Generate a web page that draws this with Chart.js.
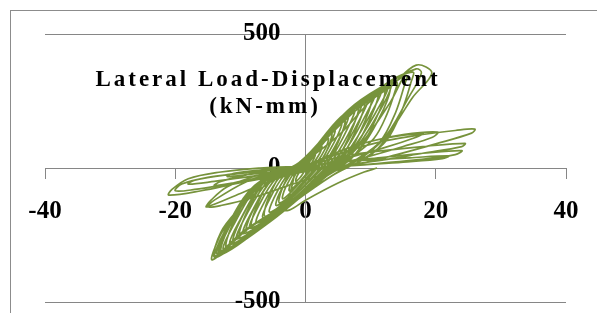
<!DOCTYPE html>
<html>
<head>
<meta charset="utf-8">
<script src="https://cdn.jsdelivr.net/npm/chart.js"></script>
<style>
html, body { margin: 0; padding: 0; background: #fff; }
#wrap { width: 597px; height: 313px; }
</style>
</head>
<body>
<div id="wrap"><canvas id="hyst" width="597" height="313"></canvas></div>
<script>
const chartTitle = ['Lateral Load-Displacement', '(kN-mm)'];
const xTicks = [-40, -20, 0, 20, 40];
const yTicks = [-500, 0, 500];

// displacement (mm), one line per load cycle
const dispX = [
  0, 0.8, 1.5, 1.3, 0.6, -0.2, -0.8, -1.5, -1.3, -0.6,
  0, 1.3, 2.5, 2.2, 1, 0, -1.3, -2.5, -2.2, -1,
  0, 1.8, 3.5, 3.1, 1.6, 0, -1.8, -3.5, -3.1, -1.5,
  0, 2, 4, 3.6, 2.3, 0.5, -2, -4, -3.7, -2.2,
  -0.2, 2.3, 4.5, 4, 2.2, 0.2, -2.2, -4.5, -4, -2,
  -0.3, 2.8, 5.5, 4.9, 2.8, 0.4, -2.6, -5.5, -4.9, -2.6,
  -0.3, 3, 6, 5.5, 3.6, 1, -3.2, -6.2, -5.8, -3.6,
  -0.4, 3.2, 6.5, 5.8, 3.4, 0.6, -3, -6.5, -5.8, -3.2,
  -0.5, 3.7, 7.5, 6.7, 4, 0.8, -3.4, -7.5, -6.7, -3.8,
  -0.5, 4, 8, 7.4, 5, 1.4, -4, -8.2, -7.6, -4.8,
  -0.6, 4.2, 8.5, 7.6, 4.6, 1, -3.8, -8.5, -7.6, -4.4,
  -0.7, 4.7, 9.5, 8.5, 5.2, 1.2, -4.2, -9.5, -8.5, -5,
  -0.5, 4.5, 9, 8.3, 5.5, 1.5, -4, -9, -8.2, -4.8,
  -0.6, 5, 10, 9.3, 6.3, 2, -4.6, -10, -9.3, -5.8,
  -0.8, 5.2, 10.5, 9.4, 5.8, 1.4, -4.6, -10.5, -9.4, -5.6,
  -0.9, 5.7, 11.5, 10.3, 6.4, 1.6, -5, -11.5, -10.3, -6.2,
  -0.7, 5.4, 11, 10.2, 6.8, 2, -4.8, -11, -10, -6,
  -0.8, 6, 12, 11.3, 7.6, 2.4, -5.4, -12, -11.2, -7,
  -1, 6.2, 12.5, 11.2, 7, 1.8, -5.4, -12.5, -11.2, -6.8,
  -1, 6.7, 13, 11.9, 7.6, 2, -5.8, -13.5, -12.2, -7.4,
  -0.8, 6.4, 12.8, 12, 8, 2.4, -5.6, -13, -12, -7.2,
  -1, 6.5, 11.5, 14, 13.8, 12.5, 10.5, 7, 2, -5.5, -12.8, -11.8, -7,
  -1, 7, 12.5, 15.5, 15.2, 13.8, 11.5, 8, 3, -5, -13.2, -12, -7.5,
  -1, 7.2, 13, 16.5, 16.2, 14.8, 12.5, 9, 4, -4.5, -13.8, -12.5, -7.8,
  -1, 7, 12.5, 15, 14.6, 13, 8.5, 2.5, -4.5, -9, -14.3, -13.2, -11.2, -8.6, -6, -3,
  -1, 7.5, 13, 17, 17.8, 16, 11.5, 4, -4, -9.5, -14, -13, -10.5, -7, -3,
  -1, 5, 10, 13, 17, 19.4, 16.5, 14.5, 12.9, 10.9, 8, 4, -2, -8, -13, -15, -14, -9, -4,
  0, 6, 12, 18, 17, 12, 6, 0, -6, -11, -14, -13, -8, -3,
  0, 5, 10, 15, 20.3, 19.5, 15, 10, 5, 0, -5, -10, -15.2, -14.5, -12, -7, -2,
  0, 6, 12, 18, 23, 26, 25.5, 20, 14, 8, 2, -4, -10, -16, -21, -20.5, -18, -13, -7,
  0, 6, 12, 18, 24.5, 24, 18, 12, 6, 0, -6, -12, -17, -20, -19, -15, -10, -4,
  0, 6, 12, 18, 24, 23, 17, 10, 4, -2, -8, -14, -18, -17, -12, -6, 0,
  4, 10, 16, 22, 21, 15, 9, 3, -3, -8, -12, -11, -7, -2,
  -2, -3, -4, -2.5, 0, 5, 9, 11
];

// lateral load (kN), same cycles
const loadY = [
  0, 30, 50, 35, 5, -15, -35, -50, -30, -5,
  5, 45, 80, 55, 10, -25, -60, -85, -55, -5,
  10, 65, 110, 75, 15, -30, -80, -115, -75, -10,
  15, 85, 130, 85, 20, -30, -95, -130, -85, -15,
  10, 85, 140, 100, 20, -35, -100, -140, -95, -15,
  15, 100, 165, 120, 30, -40, -115, -165, -115, -20,
  20, 120, 180, 125, 30, -40, -135, -180, -120, -20,
  15, 115, 190, 140, 35, -45, -130, -185, -130, -25,
  15, 130, 215, 160, 40, -45, -140, -205, -145, -30,
  20, 150, 225, 160, 40, -45, -165, -225, -150, -30,
  15, 145, 235, 175, 45, -50, -155, -225, -160, -35,
  15, 160, 255, 190, 50, -50, -165, -245, -175, -40,
  20, 165, 250, 175, 40, -45, -160, -240, -165, -35,
  20, 175, 262, 185, 45, -45, -180, -260, -180, -40,
  15, 175, 270, 205, 55, -50, -175, -265, -190, -45,
  15, 185, 285, 215, 60, -50, -185, -285, -205, -50,
  20, 190, 280, 200, 50, -45, -180, -280, -195, -45,
  20, 200, 295, 210, 50, -45, -200, -300, -210, -50,
  15, 195, 300, 225, 65, -50, -195, -305, -220, -55,
  15, 205, 310, 235, 70, -50, -205, -320, -235, -60,
  20, 210, 305, 220, 60, -45, -200, -315, -225, -55,
  20, 215, 300, 320, 290, 200, 110, 40, -40, -200, -310, -225, -55,
  20, 220, 315, 345, 310, 205, 100, 35, -35, -190, -325, -230, -60,
  20, 215, 325, 358, 320, 215, 105, 35, -30, -175, -335, -240, -65,
  15, 200, 300, 340, 320, 245, 90, -45, -157, -231, -343, -257, -183, -108, -45, -7,
  15, 210, 320, 370, 355, 270, 95, -30, -150, -235, -330, -240, -160, -80, -15,
  10, 120, 250, 302, 384, 354, 265, 190, 130, 67, 20, -15, -60, -110, -140, -145, -120, -50, -10,
  10, 70, 110, 128, 115, 75, 35, 0, -30, -55, -65, -50, -20, 0,
  5, 60, 100, 125, 134, 115, 80, 45, 15, -10, -45, -95, -145, -120, -70, -25, 0,
  10, 60, 100, 125, 140, 145, 130, 90, 50, 15, -5, -30, -55, -85, -101, -80, -40, -15, 0,
  10, 45, 65, 80, 92, 80, 55, 30, 10, -10, -35, -60, -80, -85, -60, -35, -20, -5,
  5, 25, 40, 55, 65, 50, 30, 15, 5, -10, -30, -50, -60, -45, -25, -10, 0,
  20, 30, 38, 45, 35, 22, 12, 2, -10, -22, -32, -20, -8, 0,
  -60, -130, -155, -157, -120, -56, -15, 0
];

const points = dispX.map((x, i) => ({ x: x, y: loadY[i] }));

const axisGray = '#868686';
const tickFont = { family: '"Liberation Serif"', size: 25, weight: 'bold' };

// drop the overhang padding that centred axes would otherwise reserve
function noOverhang(s) {
  s.paddingTop = 0;
  s.paddingBottom = 0;
  s.paddingLeft = 0;
  s.paddingRight = 0;
}

// outer border of the chart box
const frame = {
  id: 'frame',
  beforeDraw(chart) {
    const ctx = chart.ctx;
    ctx.save();
    ctx.strokeStyle = '#8c8c8c';
    ctx.lineWidth = 1;
    ctx.strokeRect(10.5, 10.5, 700, 400);
    ctx.restore();
  }
};

// title sits inside the plot, over the curves
const innerTitle = {
  id: 'innerTitle',
  afterDatasetsDraw(chart) {
    const ctx = chart.ctx;
    ctx.save();
    ctx.fillStyle = '#000';
    ctx.font = 'bold 23px "Liberation Serif"';
    ctx.letterSpacing = '3px';
    ctx.textAlign = 'center';
    ctx.textBaseline = 'middle';
    ctx.fillText(chartTitle[0], 268, 80);
    ctx.fillText(chartTitle[1], 265, 107);
    ctx.restore();
  }
};

new Chart('hyst', {
  type: 'scatter',
  data: {
    datasets: [{
      data: points,
      showLine: true,
      fill: false,
      borderColor: '#77933C',
      borderWidth: 1.7,
      pointRadius: 0,
      tension: 0.35
    }]
  },
  options: {
    responsive: false,
    animation: false,
    layout: { padding: { left: 45, right: 31, top: 34, bottom: 11 } },
    plugins: {
      legend: { display: false },
      tooltip: { enabled: false }
    },
    scales: {
      x: {
        type: 'linear',
        min: -40,
        max: 40,
        position: { y: 0 },
        afterBuildTicks: (s) => { s.ticks = xTicks.map(v => ({ value: v })); },
        afterFit: (s) => { s.height = 0; noOverhang(s); },
        grid: { drawOnChartArea: false, drawTicks: true, tickLength: 10, color: axisGray },
        border: { color: axisGray, width: 1 },
        ticks: { padding: 19, color: '#000', font: tickFont, maxRotation: 0, autoSkip: false }
      },
      y: {
        type: 'linear',
        min: -500,
        max: 500,
        position: { x: 0 },
        afterBuildTicks: (s) => { s.ticks = yTicks.map(v => ({ value: v })); },
        afterFit: (s) => { s.width = 0; noOverhang(s); },
        grid: { color: axisGray, drawTicks: false, tickLength: 0 },
        border: { color: axisGray, width: 1 },
        ticks: {
          color: '#000',
          font: tickFont,
          autoSkip: false,
          // centred axis draws labels flush to the line; an em space keeps the gap
          callback: (v) => v + '\u2003'
        }
      }
    }
  },
  plugins: [frame, innerTitle]
});
</script>
</body>
</html>
